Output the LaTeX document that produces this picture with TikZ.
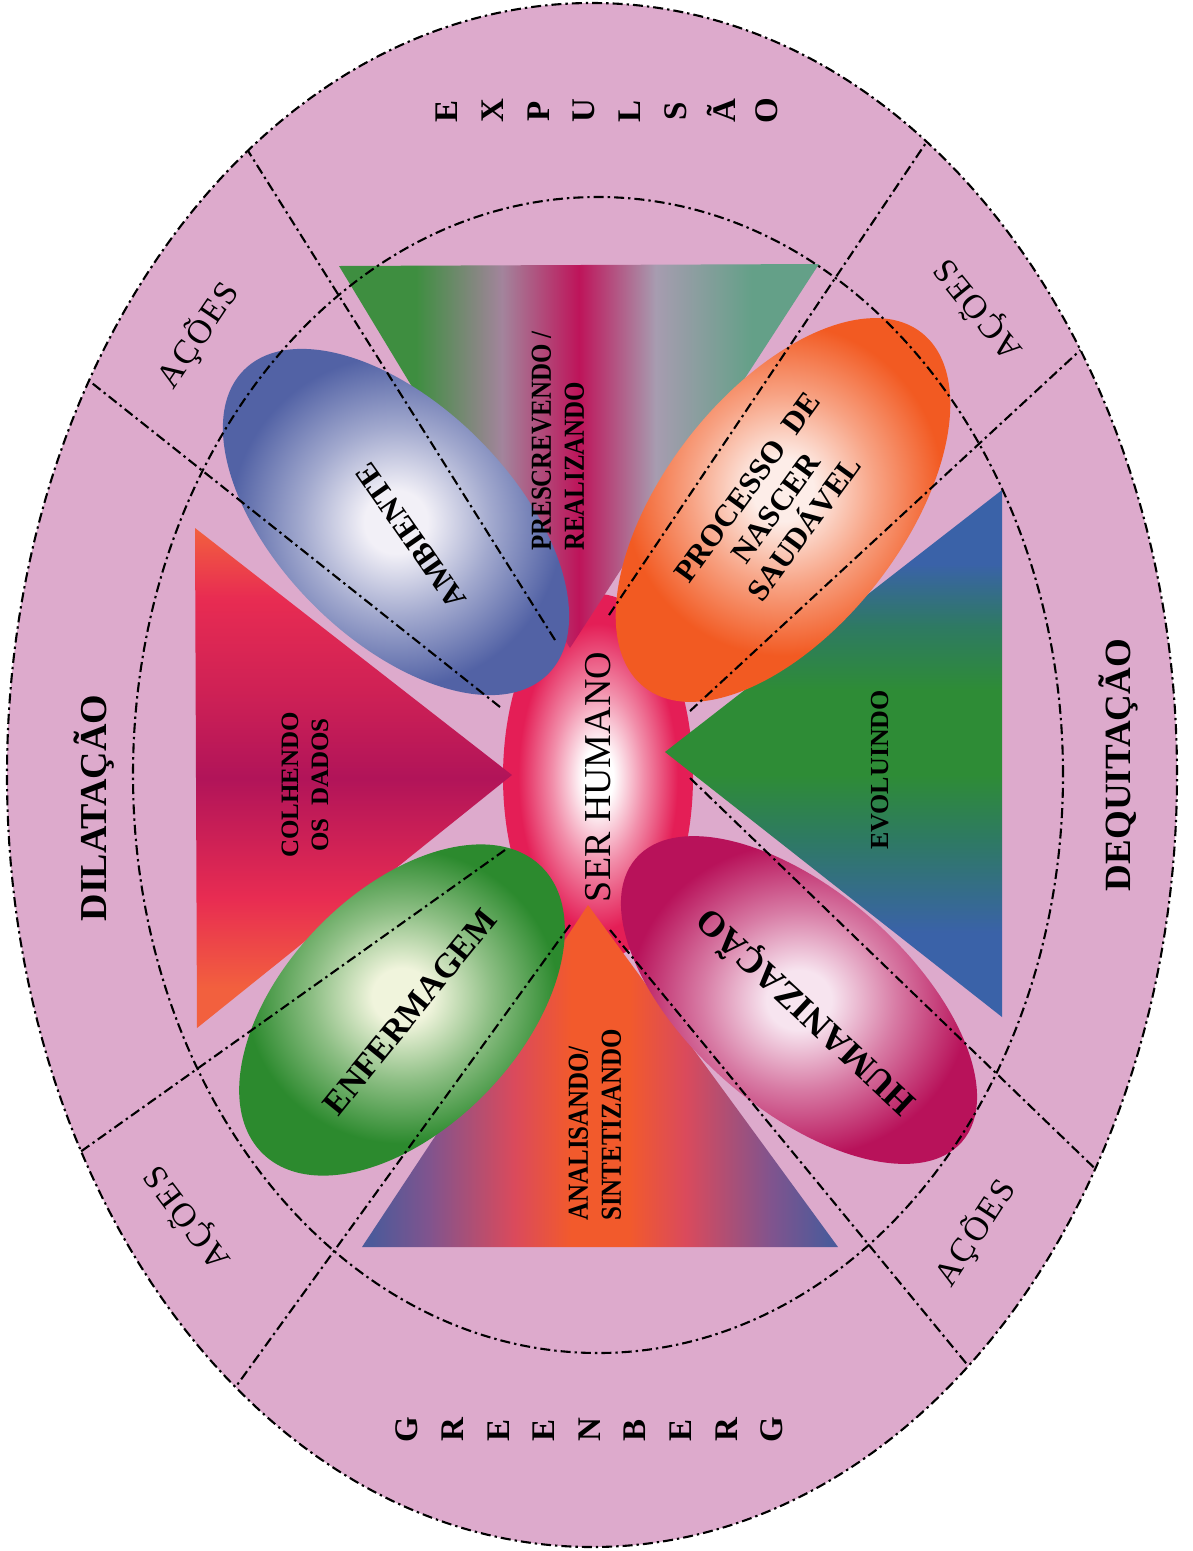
\documentclass[tikz,border=0pt]{standalone}
\usepackage{fontspec}
\setmainfont{Liberation Serif}
\newfontfamily\narrowserif{Liberation Serif}[FakeStretch=0.86]
\usetikzlibrary{shapes.geometric}

\definecolor{band}{HTML}{DDAACC}
\definecolor{serrim}{HTML}{E41E56}
% triangle colours
\definecolor{tgreen}{HTML}{3E8E40}\definecolor{tmauve}{HTML}{A3849C}
\definecolor{tcrim}{HTML}{BE145A}\definecolor{tgrey}{HTML}{A79CB0}
\definecolor{tteal}{HTML}{64A088}
\definecolor{bblue}{HTML}{4C5A9A}\definecolor{bplum}{HTML}{80548E}
\definecolor{bred}{HTML}{DA4A5C}\definecolor{borange}{HTML}{F25A2C}
\definecolor{lorange}{HTML}{F2603E}\definecolor{lred}{HTML}{E82C52}
\definecolor{lmag}{HTML}{B11459}
\definecolor{rblue}{HTML}{3A62A8}\definecolor{rteal}{HTML}{2E7A62}
\definecolor{rgreen}{HTML}{2E8C36}
% petal colours
\definecolor{ambrim}{HTML}{5262A5}\definecolor{ambcore}{HTML}{F2F0F7}
\definecolor{procrim}{HTML}{F25A22}\definecolor{proccore}{HTML}{FDEDE8}
\definecolor{enfrim}{HTML}{2C8A2E}\definecolor{enfcore}{HTML}{F0F4DC}
\definecolor{humrim}{HTML}{B8125A}\definecolor{humcore}{HTML}{F7E4EF}
\colorlet{pcore}{white}\colorlet{prim}{red}

% only 25bp..75bp of an axis shading (and 0bp..25bp of a radial one) cover the path
\pgfdeclarehorizontalshading{toptri}{100bp}{color(0bp)=(tgreen); color(33bp)=(tgreen); color(42bp)=(tmauve); color(50bp)=(tcrim); color(58bp)=(tgrey); color(68bp)=(tteal); color(100bp)=(tteal)}
\pgfdeclarehorizontalshading{bottri}{100bp}{color(0bp)=(bblue); color(26bp)=(bblue); color(32bp)=(bplum); color(41bp)=(bred); color(47bp)=(borange); color(53bp)=(borange); color(59bp)=(bred); color(68bp)=(bplum); color(74bp)=(bblue); color(100bp)=(bblue)}
\pgfdeclareverticalshading{lefttri}{100bp}{color(0bp)=(lorange); color(29bp)=(lorange); color(38bp)=(lred); color(50bp)=(lmag); color(58bp)=(lmag!50!lred); color(68bp)=(lred); color(75bp)=(lorange); color(100bp)=(lorange)}
\pgfdeclareverticalshading{righttri}{100bp}{color(0bp)=(rblue); color(33bp)=(rblue); color(42bp)=(rteal); color(48bp)=(rgreen); color(56bp)=(rgreen); color(62bp)=(rteal); color(68bp)=(rblue); color(100bp)=(rblue)}
\pgfdeclareradialshading[pcore,prim]{petalglow}{\pgfpointorigin}{color(0bp)=(pcore); color(4bp)=(pcore); color(12bp)=(pcore!50!prim); color(21bp)=(prim); color(50bp)=(prim)}

\begin{document}
\begin{tikzpicture}[x=1pt,y=1pt,
cutline/.style={draw=black,line width=2.1pt,dash pattern=on 10pt off 4pt on 2.4pt off 4pt},
petal/.style={ellipse,shade,shading=petalglow,inner sep=0pt},
petal core/.code={\colorlet{pcore}{#1}},
petal rim/.code={\colorlet{prim}{#1}},
petaltext/.style={font=\bfseries\fontsize{31}{35}\selectfont,align=center},
phase/.style={font=\bfseries\fontsize{38}{40}\selectfont,rotate=90},
actlabel/.style={font=\fontsize{34}{36}\selectfont\addfontfeature{LetterSpace=6}},
tritext/.style={font=\narrowserif\bfseries\fontsize{29}{33}\selectfont,rotate=90,align=left},
stackletter/.style={font=\bfseries\fontsize{33}{35}\selectfont,rotate=90,inner sep=0pt}]
\useasboundingbox (0,0) rectangle (1193,-1551);
\fill[white] (0,0) rectangle (1193,-1551);

% outer band
\fill[band] (592,-775) ellipse [x radius=585,y radius=772];

% centre
\node[petal,petal core=white,petal rim=serrim,minimum width=190,minimum height=366] (serblob) at (598,-777) {};

% triangles
\shade[shading=toptri] (339,-266) -- (819,-264) -- (570,-648) -- cycle;
\shade[shading=bottri] (362,-1247) -- (838,-1247) -- (588,-905) -- cycle;
\shade[shading=lefttri] (195,-528) -- (197,-1028) -- (512,-775) -- cycle;
\shade[shading=righttri] (1002,-490) -- (1002,-1017) -- (665,-752) -- cycle;

% petals
\node[petal,petal core=ambcore,petal rim=ambrim,minimum width=430,minimum height=234,rotate=135] (amb) at (396,-522) {};
\node[petal,petal core=proccore,petal rim=procrim,minimum width=450,minimum height=238,rotate=52] (proc) at (783,-510) {};
\node[petal,petal core=enfcore,petal rim=enfrim,minimum width=400,minimum height=236,rotate=46] (enf) at (402,-1010) {};
\node[petal,petal core=humcore,petal rim=humrim,minimum width=432,minimum height=218,rotate=139] (hum) at (799,-1000) {};
\node[petaltext,rotate=125] (ambtext) at (411,-536) {AMBIENTE};
\node[petaltext,rotate=54] (proctext) at (776,-508) {PROCESSO\ \ DE\\NASCER\\SAUDÁVEL};
\node[petaltext,rotate=51,font=\bfseries\fontsize{34}{36}\selectfont] (enftext) at (410,-1012) {ENFERMAGEM};
\node[petaltext,rotate=137,font=\bfseries\fontsize{36}{38}\selectfont] (humtext) at (806,-1012) {HUMANIZAÇÃO};

% texts of the triangles
\node[tritext] (presc) at (558,-441) {PRESCREVENDO /\\REALIZANDO};
\node[tritext] (anal) at (595,-1125) {ANALISANDO/\\SINTETIZANDO};
\node[tritext,align=center,font=\bfseries\fontsize{25}{30}\selectfont] (colh) at (305,-785) {COLHENDO\\OS\ \ DADOS};
\node[tritext,font=\bfseries\fontsize{26}{30}\selectfont] (evol) at (880,-770) {EVOLUINDO};

% dash-dot lines
\draw[cutline] (598,-775) ellipse [x radius=465,y radius=578];
\begin{scope}
\clip (592,-775) ellipse [x radius=585,y radius=772];
\foreach \xa/\ya/\xb/\yb in {555/640/154/1, 500/707/0/310, 609/615/995/40, 690/711/1193/246,
  570/925/101/1573, 505/850/0/1209, 610/930/1118/1548, 690/778/1194/1264}
  \draw[cutline] (\xa,-\ya) -- (\xb,-\yb);
\end{scope}
\draw[cutline] (592,-775) ellipse [x radius=585,y radius=772];

\node[font=\fontsize{38}{40}\selectfont,rotate=90] (ser) at (serblob.center) {SER HUMANO};

% labels in the band
\node[phase] (dil) at (94,-808) {DILATAÇÃO};
\node[phase,font=\bfseries\fontsize{37}{40}\selectfont] (deq) at (1118,-765) {DEQUITAÇÃO};
\node[actlabel,rotate=56] (act1) at (198,-335) {AÇÕES};
\node[actlabel,rotate=129] (act2) at (978,-310) {AÇÕES};
\node[actlabel,rotate=127] (act3) at (187,-1218) {AÇÕES};
\node[actlabel,rotate=57] (act4) at (975,-1233) {AÇÕES};
\foreach \ch [count=\i] in {E,X,P,U,L,S,Ã,O}
  \node[stackletter] (exp\i) at ({447+45.7*(\i-1)},-111) {\ch};
\foreach \ch [count=\i] in {G,R,E,E,N,B,E,R,G}
  \node[stackletter] (gre\i) at ({407+45.6*(\i-1)},-1430) {\ch};
\end{tikzpicture}
\end{document}
